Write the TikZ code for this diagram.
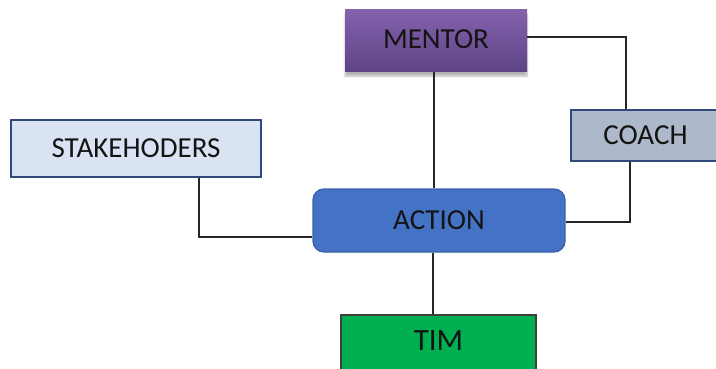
\documentclass[tikz,border=0pt]{standalone}
\usepackage{fontspec}
\setmainfont{Carlito}
\usetikzlibrary{shadows.blur}
\definecolor{txt}{HTML}{141414}
\definecolor{stkfill}{HTML}{DAE3F3}
\definecolor{navy}{HTML}{2F4A78}
\definecolor{coachfill}{HTML}{ADB9CA}
\definecolor{actfill}{HTML}{4472C4}
\definecolor{actborder}{HTML}{3A62AA}
\definecolor{timfill}{HTML}{00B050}
\definecolor{mentortop}{HTML}{8462AC}
\definecolor{mentorbot}{HTML}{5E4386}
\tikzset{
  box/.style={inner sep=0pt, text=txt, font=\fontsize{29}{31}\selectfont},
  conn/.style={draw=black!85, line width=1.3pt},
}
\begin{document}
\begin{tikzpicture}[x=1pt,y=-1pt]
\useasboundingbox (0,0) rectangle (716,369);
\clip (0,0) rectangle (716,369);
\node[box, minimum width=182pt, minimum height=62pt, top color=mentortop, bottom color=mentorbot, draw=none,
  blur shadow={shadow xshift=0pt, shadow yshift=-4pt, shadow blur steps=8, shadow opacity=30}] (MENTOR) at (436,41) {\raisebox{4pt}{MENTOR}};
\node[box, minimum width=250pt, minimum height=57pt, fill=stkfill, draw=navy, line width=2.8pt] (STAKEHODERS) at (136,148.5) {STAKEHODERS};
\node[box, minimum width=149pt, minimum height=51pt, fill=coachfill, draw=navy, line width=2.4pt] (COACH) at (645.5,135.5) {COACH};
\node[box, minimum width=252pt, minimum height=63pt, fill=actfill, draw=actborder, line width=1.3pt, rounded corners=11pt] (ACTION) at (439,220.5) {ACTION};
\node[box, minimum width=195pt, minimum height=64pt, fill=timfill, draw=black!75, line width=1.4pt, font=\fontsize{31}{33}\selectfont] (TIM) at (438.5,347) {\raisebox{12pt}{TIM}};
\draw[conn] (MENTOR.east |- 0,37) -| (COACH.north -| 626,0);
\draw[conn] (MENTOR.south -| 434,0) -- (ACTION.north -| 434,0);
\draw[conn] (STAKEHODERS.south -| 199,0) |- (ACTION.west |- 0,237);
\draw[conn] (COACH.south -| 630,0) |- (ACTION.east |- 0,222);
\draw[conn] (ACTION.south -| 433,0) -- (TIM.north -| 433,0);
\end{tikzpicture}
\end{document}
